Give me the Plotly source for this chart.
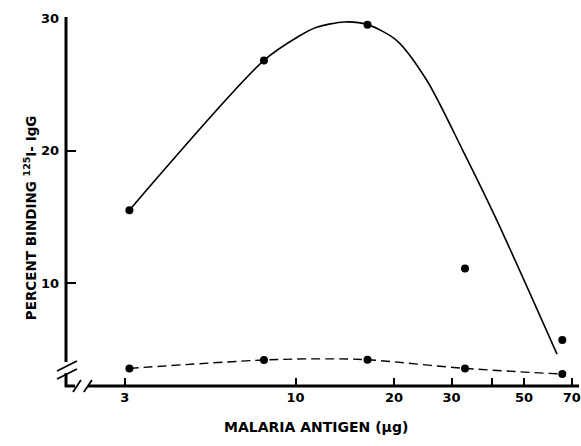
import math
import plotly.graph_objects as go

# ---- data ----
antigen_ug = [3.1, 8.0, 16.6, 33.0, 65.5]
binding_upper = [15.5, 26.8, 29.5, 11.1, 5.7]
binding_lower = [3.56, 4.19, 4.21, 3.56, 3.13]

# hand-drawn smooth curve through upper series
fit_x = [3.1, 8.0, 10.2, 11.6, 14.1, 16.6, 20.4, 25.2, 32.5, 41.0, 63.1]
fit_y = [15.5, 26.8, 28.6, 29.3, 29.7, 29.5, 28.3, 25.3, 20.0, 14.9, 4.64]

# dashed curve through lower series
dash_x = [3.1, 8.0, 12.0, 16.6, 33.0, 65.5]
dash_y = [3.56, 4.19, 4.28, 4.21, 3.56, 3.13]

x_tickvals = [3, 10, 20, 30, 50, 70]
x_ticktext = ["3", "10", "20", "30", "50", "70"]
x_minor_ticks = [40]
y_tickvals = [10, 20, 30]
y_ticktext = ["10", "20", "30"]

W, H = 581, 446
ML, MR, MT, MB = 66, 0, 18, 60
PW, PH = W - ML - MR, H - MT - MB

def px(xp):
    return (xp - ML) / PW

def py(yp):
    return (H - MB - yp) / PH

FONT = "DejaVu Sans, Liberation Sans, Arial, sans-serif"

fig = go.Figure()
fig.add_trace(go.Scatter(x=fit_x, y=fit_y, mode="lines", line=dict(color="black", width=1.6, shape="spline", smoothing=0.8), hoverinfo="skip"))
fig.add_trace(go.Scatter(x=dash_x, y=dash_y, mode="lines", line=dict(color="black", width=1.4, dash="9px,5px", shape="spline", smoothing=1.0), hoverinfo="skip"))
fig.add_trace(go.Scatter(x=antigen_ug, y=binding_upper, mode="markers", marker=dict(color="black", size=8)))
fig.add_trace(go.Scatter(x=antigen_ug, y=binding_lower, mode="markers", marker=dict(color="black", size=8)))

x_lo = math.log10(3) - (125 - ML) / 328.0
x_hi = x_lo + PW / 328.0

fig.update_xaxes(type="log", range=[x_lo, x_hi], showgrid=False, zeroline=False, showline=False,
                 tickvals=x_tickvals, ticktext=x_ticktext, ticks="inside", ticklen=8, tickwidth=1.5,
                 tickcolor="black", tickfont=dict(family=FONT, size=13, color="black", weight="bold"),
                 ticklabelstandoff=2, ticklabeloverflow="allow",
                 minor=dict(tickvals=x_minor_ticks, ticks="inside", ticklen=8, tickwidth=1.5, tickcolor="black",
                            showgrid=False))
fig.update_yaxes(range=[2.23, 30.0], showgrid=False, zeroline=False, showline=False,
                 tickvals=y_tickvals, ticktext=y_ticktext, ticks="inside", ticklen=10, tickwidth=1.5,
                 tickcolor="black", tickfont=dict(family=FONT, size=13, color="black", weight="bold"),
                 ticklabelstandoff=6)

shapes = []
def seg(x0, y0, x1, y1, w=3):
    shapes.append(dict(type="line", xref="paper", yref="paper", x0=px(x0), y0=py(y0), x1=px(x1), y1=py(y1),
                       line=dict(color="black", width=w)))

# axis lines with breaks
seg(66, 17, 66, 362)
seg(66, 373, 66, 387)
seg(65, 386, 75, 386)
seg(88, 386, 581, 386)
# break marks
seg(57, 371, 77, 361, 1.8)
seg(57, 379, 77, 369, 1.8)
seg(73, 392, 81, 380, 1.8)
seg(84, 392, 92, 380, 1.8)

fig.update_layout(
    width=W, height=H, margin=dict(l=ML, r=MR, t=MT, b=MB),
    plot_bgcolor="white", paper_bgcolor="white", showlegend=False,
    shapes=shapes,
    annotations=[
        dict(text="MALARIA ANTIGEN (µg)", xref="paper", yref="paper", x=px(317), y=py(437),
             showarrow=False, font=dict(family=FONT, size=14, color="black", weight="bold")),
        dict(text="PERCENT BINDING <sup>125</sup>I- IgG", xref="paper", yref="paper", x=px(19), y=py(218),
             textangle=-90, showarrow=False, font=dict(family=FONT, size=13.5, color="black", weight="bold")),
    ],
)

fig.write_html("out.html", config={"displayModeBar": False},
               post_script="document.body.style.margin='0';document.body.style.padding='0';")
